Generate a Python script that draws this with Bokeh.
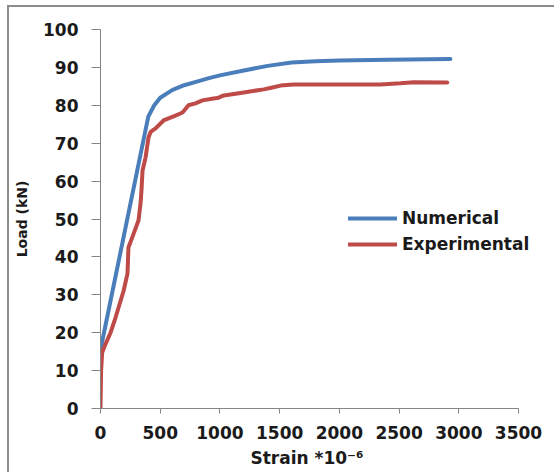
from bokeh.plotting import figure
from bokeh.embed import file_html
from bokeh.resources import INLINE
from bokeh.models import Range1d, FixedTicker, Legend, LegendItem, Title

# Data
num_strain = [0, 400, 450, 500, 600, 700, 800, 900, 1000, 1200, 1400, 1600, 1800, 2000, 2400, 2930]
num_load = [15.5, 77.0, 80.0, 82.0, 84.0, 85.3, 86.2, 87.1, 87.9, 89.2, 90.4, 91.3, 91.6, 91.8, 92.0, 92.2]

exp_strain = [0, 5, 14, 42, 84, 126, 193, 226, 234, 276, 318, 335, 343, 352, 377, 402, 420, 461, 528, 628, 687, 737,
              795, 854, 946, 979, 1033, 1200, 1367, 1440, 1507, 1617, 2000, 2344, 2512, 2623, 2903]
exp_load = [0, 10, 14.8, 17, 20, 24, 31, 35.6, 42.5, 46, 49.6, 54, 57.5, 62.8, 66.2, 71.5, 73, 73.9, 76, 77.3, 78.1, 80,
            80.5, 81.3, 81.8, 81.9, 82.6, 83.4, 84.2, 84.7, 85.2, 85.5, 85.5, 85.5, 85.8, 86.1, 86.0]

x_ticks = [0, 500, 1000, 1500, 2000, 2500, 3000, 3500]
y_ticks = [0, 10, 20, 30, 40, 50, 60, 70, 80, 90, 100]
x_axis_max = 3500
y_axis_max = 100

BLUE = "#4a7ebb"
RED = "#be4b48"
GRAY = "#868686"
FONT = "DejaVu Sans"

# frame widened to the right edge so the legend text is not clipped; axis is bounded at 3500
p = figure(width=547, height=467, output_backend="svg", toolbar_location=None,
           x_range=Range1d(0, 3818), y_range=Range1d(0, y_axis_max),
           min_border_left=91, min_border_right=0, min_border_top=22, min_border_bottom=66)
p.styles = {"border-top": "2px solid #8c8c8c", "border-left": "2px solid #8c8c8c",
            "margin-left": "7px", "margin-top": "5px"}

p.outline_line_color = None
p.xgrid.grid_line_color = None
p.ygrid.grid_line_color = None
p.background_fill_color = "white"
p.border_fill_color = "white"

for ax in (p.xaxis[0], p.yaxis[0]):
    ax.axis_line_color = GRAY
    ax.major_tick_line_color = GRAY
    ax.minor_tick_line_color = None
    ax.major_tick_in = 0
    ax.major_label_text_font = FONT
    ax.major_label_text_font_style = "bold"
    ax.major_label_text_font_size = "17px"
    ax.major_label_text_color = "#1a1a1a"
    ax.axis_label_text_font = FONT
    ax.axis_label_text_font_style = "bold"
    ax.axis_label_text_color = "#1a1a1a"

p.xaxis[0].bounds = (0, x_axis_max)
p.yaxis[0].axis_label_text_font_size = "14px"
p.xaxis[0].ticker = FixedTicker(ticks=x_ticks)
p.yaxis[0].ticker = FixedTicker(ticks=y_ticks)
p.xaxis[0].major_tick_out = 5
p.yaxis[0].major_tick_out = 9
p.xaxis[0].major_label_standoff = 12
p.yaxis[0].major_label_standoff = 13
p.yaxis[0].axis_label = "Load (kN)"
p.yaxis[0].axis_label_standoff = 10

xlabel = Title(text="Strain *10⁻⁶", align="left", offset=150, standoff=8,
               text_font=FONT, text_font_style="bold", text_font_size="17px", text_color="#1a1a1a")
p.add_layout(xlabel, "below")

r1 = p.line(num_strain, num_load, line_color=BLUE, line_width=4, line_cap="round", line_join="round")
r2 = p.line(exp_strain, exp_load, line_color=RED, line_width=4, line_cap="round", line_join="round")

legend = Legend(items=[LegendItem(label="Numerical", renderers=[r1]),
                       LegendItem(label="Experimental", renderers=[r2])],
                location=(248, 151), padding=0, margin=0, spacing=0,
                glyph_width=49, glyph_height=26, label_height=26, label_standoff=5,
                border_line_color=None, background_fill_alpha=0,
                label_text_font=FONT, label_text_font_style="bold",
                label_text_font_size="17px", label_text_color="#1a1a1a")
p.add_layout(legend)

open("out.html", "w").write(file_html(p, INLINE))
